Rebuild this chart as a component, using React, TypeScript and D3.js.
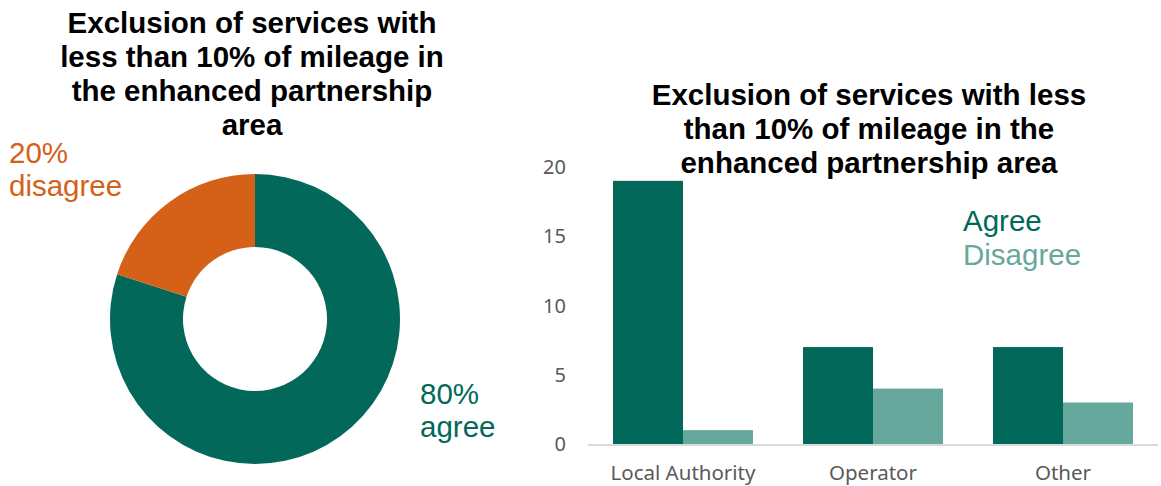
import React from "react";
import * as d3 from "d3";

const categories = ["Local Authority", "Operator", "Other"];
const agreeValues = [19, 7, 7];
const disagreeValues = [1, 4, 3];
const yTicks = [0, 5, 10, 15, 20];
const donutLabels = ["agree", "disagree"];
const donutValues = [80, 20];
const donutTitle = ["Exclusion of services with", "less than 10% of mileage in", "the enhanced partnership", "area"];
const barTitle = ["Exclusion of services with less", "than 10% of mileage in the", "enhanced partnership area"];
const seriesNames = ["Agree", "Disagree"];

const GREEN = "#02695A";
const LIGHT = "#66A89B";
const ORANGE = "#D46117";
const FONT = "'Liberation Sans', Arial, sans-serif";

export default function App() {
  const W = 1161, H = 486;
  const cx = 255, cy = 319;
  const pie = d3.pie<number>().sort(null).value((d) => d);
  const arcs = pie(donutValues);
  const arc = d3.arc<d3.PieArcDatum<number>>().innerRadius(72).outerRadius(145);
  const donutColors = [GREEN, ORANGE];

  const x0 = d3.scaleBand<string>().domain(categories).range([588, 1158]).paddingInner(50 / 190).paddingOuter(25 / 190);
  const x1 = d3.scaleBand<string>().domain(seriesNames).range([0, x0.bandwidth()]);
  const y = d3.scaleLinear().domain([0, 20]).range([444, 167]);
  const seriesValues = [agreeValues, disagreeValues];
  const seriesColors = [GREEN, LIGHT];

  return (
    <svg width={W} height={H} style={{ position: "absolute", left: 0, top: 0, background: "#fff" }}>
      <text fontFamily={FONT} fontWeight="bold" fontSize={29.5} textAnchor="middle" fill="#000">
        {donutTitle.map((t, i) => (
          <tspan key={i} x={252} y={33 + i * 34}>{t}</tspan>
        ))}
      </text>
      <g transform={`translate(${cx},${cy})`}>
        {arcs.map((a, i) => (
          <path key={i} d={arc(a) || ""} fill={donutColors[i]} />
        ))}
      </g>
      <text fontFamily={FONT} fontSize={29.5} fill={ORANGE}>
        <tspan x={9} y={163}>{donutValues[1]}%</tspan>
        <tspan x={9} y={196}>{donutLabels[1]}</tspan>
      </text>
      <text fontFamily={FONT} fontSize={29.5} fill={GREEN}>
        <tspan x={420} y={404}>{donutValues[0]}%</tspan>
        <tspan x={420} y={437}>{donutLabels[0]}</tspan>
      </text>

      <text fontFamily={FONT} fontWeight="bold" fontSize={29.5} textAnchor="middle" fill="#000">
        {barTitle.map((t, i) => (
          <tspan key={i} x={869} y={105 + i * 34}>{t}</tspan>
        ))}
      </text>
      {yTicks.map((t) => (
        <text key={t} x={566} y={y(t) + 7} textAnchor="end" fontFamily="'Noto Sans', sans-serif" fontSize={20} fill="#595959">{t}</text>
      ))}
      {categories.map((c, ci) => (
        <g key={c} transform={`translate(${x0(c)},0)`}>
          {seriesNames.map((s, si) => (
            <rect key={s} x={x1(s)} y={y(seriesValues[si][ci])} width={x1.bandwidth()} height={y(0) - y(seriesValues[si][ci])} fill={seriesColors[si]} />
          ))}
        </g>
      ))}
      <line x1={588} x2={1158} y1={y(0) + 1} y2={y(0) + 1} stroke="#D9D9D9" strokeWidth={2} />
      {categories.map((c) => (
        <text key={c} x={(x0(c) || 0) + x0.bandwidth() / 2} y={480} textAnchor="middle" fontFamily="'Noto Sans', sans-serif" fontSize={20.5} fill="#595959">{c}</text>
      ))}
      <text fontFamily={FONT} fontSize={29.5}>
        <tspan x={963} y={231} fill={GREEN}>{seriesNames[0]}</tspan>
        <tspan x={963} y={265} fill={LIGHT}>{seriesNames[1]}</tspan>
      </text>
    </svg>
  );
}
